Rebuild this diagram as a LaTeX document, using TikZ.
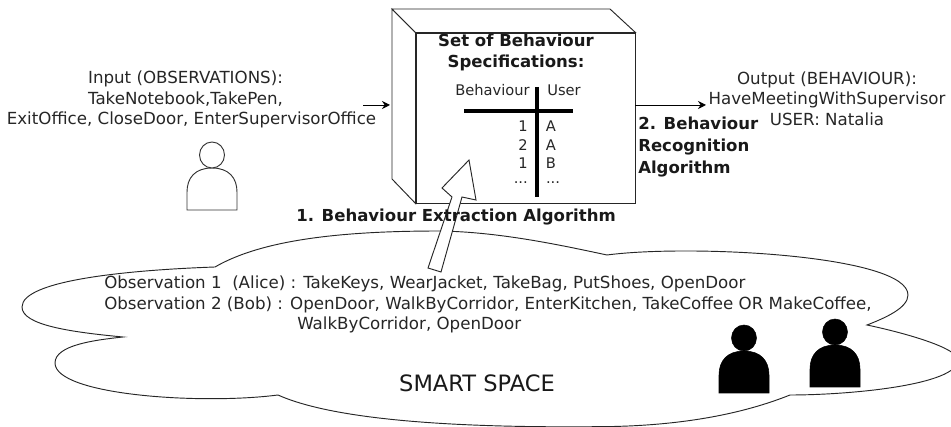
\documentclass[tikz,border=0pt]{standalone}
\usepackage{fontspec}
\setmainfont{DejaVu Sans}
\usetikzlibrary{arrows.meta}
\tikzset{
  lbl/.style={inner sep=0pt,font=\fontsize{12.5}{15.4}\selectfont,text=black!85},
  blbl/.style={inner sep=0pt,font=\fontsize{12.4}{16.2}\selectfont\bfseries,text=black!90},
  tbl/.style={inner sep=0pt,font=\fontsize{11}{13}\selectfont,text=black!85},
  edge/.style={draw=black!85,line width=0.7pt},
  flow/.style={draw=black,line width=0.7pt,-{Stealth[length=6pt,width=6pt]}},
  bar/.style={draw=black,line width=3.6pt},
  person/.pic={
    \path[pic actions] (-25,0) -- (-25,-18) .. controls (-25,-32) and (-17,-42) .. (0,-42)
      .. controls (17,-42) and (25,-32) .. (25,-18) -- (25,0) -- cycle;
    \path[pic actions] (0,-55) ellipse [x radius=12.5,y radius=13];
  }
}
\begin{document}
\begin{tikzpicture}[x=0.75pt,y=-0.75pt]
\useasboundingbox (0,0) rectangle (951,427);
\begin{scope}
\clip (0,0) rectangle (951,427);
\draw[edge,fill=white] (215,267) .. controls (265,238) and (350,231) .. (440,231)
  .. controls (500,232) and (560,245) .. (607,255)
  .. controls (690,244) and (908,255) .. (908,295)
  .. controls (908,308) and (885,318) .. (867,325)
  .. controls (905,333) and (958,348) .. (958,360)
  .. controls (958,385) and (850,395) .. (790,395)
  .. controls (740,415) and (680,425) .. (613,426.5)
  .. controls (500,428) and (345,425) .. (278,395)
  .. controls (200,405) and (55,395) .. (55,363)
  .. controls (55,345) and (95,340) .. (123,337)
  .. controls (70,332) and (22,325) .. (22,307)
  .. controls (22,280) and (130,270) .. cycle;
\end{scope}
% box
\node[edge,fill=white,inner sep=0pt,minimum width=164.25pt,minimum height=127.5pt] (front) at (525.5,118) {};
\draw[edge,fill=white] (front.north west) -- (392,9) -- (392,179) -- (front.south west) -- cycle;
\draw[edge,fill=white] (front.north west) -- (392,9) -- (610,9) -- (front.north east) -- cycle;
% table
\draw[bar] (464,111) -- (573,111);
\draw[bar] (537,87) -- (537,197);
\node[blbl,align=center] (title) at (516,52.5) {Set of Behaviour\\Specifications:};
\node[tbl,anchor=east] (hb) at (530,90) {Behaviour};
\node[tbl,anchor=west] (hu) at (547,90) {User};
\node[tbl,anchor=east] (r1) at (528,126) {1};
\node[tbl,anchor=east] (r2) at (528,145) {2};
\node[tbl,anchor=east] (r3) at (528,163) {1};
\node[tbl,anchor=east] (r4) at (528,183) {...};
\node[tbl] (u1) at (551,126) {A};
\node[tbl] (u2) at (551,145) {A};
\node[tbl] (u3) at (551,163) {B};
\node[tbl] (u4) at (553,183) {...};
% white arrow
\draw[edge,fill=white,line join=miter] (469,160) -- (476,200) -- (462,197) -- (441,272) -- (428,268) -- (452,197) -- (442,188) -- cycle;
% texts
\node[lbl,align=center] (input) at (191.5,99.5) {Input (OBSERVATIONS):\hspace{9pt}\null\\TakeNotebook,TakePen,\hspace{9pt}\null\\ExitOffice, CloseDoor, EnterSupervisorOffice};
\node[lbl,align=center] (output) at (827,98.5) {Output (BEHAVIOUR):\\HaveMeetingWithSupervisor\\USER: Natalia};
\node[blbl,anchor=west] (alg1) at (296,217) {1. Behaviour Extraction Algorithm};
\node[blbl,anchor=west,align=left] (alg2) at (638,147) {2. Behaviour\\Recognition\\Algorithm};
\node[lbl,anchor=west] (obs1) at (104,284) {Observation 1\ \ (Alice) : TakeKeys, WearJacket, TakeBag, PutShoes, OpenDoor};
\node[lbl,anchor=west] (obs2) at (104,304.5) {Observation 2 (Bob) : OpenDoor, WalkByCorridor, EnterKitchen, TakeCoffee OR MakeCoffee,};
\node[lbl,anchor=west] (obs3) at (297,325) {WalkByCorridor, OpenDoor};
\node[inner sep=0pt,font=\fontsize{16.9}{19}\selectfont,text=black!90] (space) at (477,383) {SMART SPACE};
% connectors
\coordinate (inS) at (363,105);
\coordinate (inE) at (390,105);
\coordinate (outS) at (front.east |- 0,105);
\coordinate (outE) at (706,105);
\draw[flow] (inS) -- (inE);
\draw[flow] (outS) -- (outE);
% persons
\pic[draw=black!80,line width=0.7pt,fill=white] at (212,210) {person};
\pic[draw=black,fill=black] at (744,393) {person};
\pic[draw=black,fill=black] at (835,387) {person};
\end{tikzpicture}
\end{document}
